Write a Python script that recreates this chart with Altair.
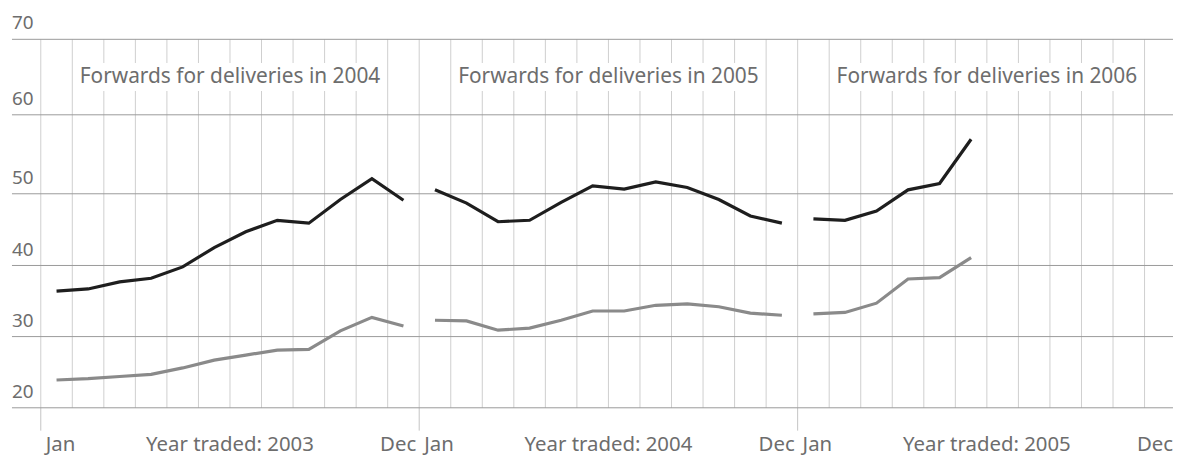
import altair as alt
import pandas as pd

# ---- data ----
years_traded = [2003, 2004, 2005]
delivery_years = [2004, 2005, 2006]
series_names = ["Peak", "Base"]

peak_2003 = [36.4, 36.7, 37.7, 38.2, 39.8, 42.5, 44.7, 46.3, 45.9, 49.2, 51.9, 49.1]
base_2003 = [23.9, 24.1, 24.4, 24.7, 25.6, 26.7, 27.4, 28.1, 28.2, 30.8, 32.7, 31.5]
peak_2004 = [50.5, 48.7, 46.1, 46.3, 48.8, 51.0, 50.6, 51.5, 50.8, 49.2, 46.9, 45.9]
base_2004 = [32.3, 32.2, 30.9, 31.2, 32.3, 33.6, 33.6, 34.4, 34.6, 34.2, 33.3, 33.0]
peak_2005 = [46.5, 46.3, 47.6, 50.5, 51.3, 56.9]
base_2005 = [33.2, 33.4, 34.7, 38.1, 38.3, 41.1]

y_ticks = [20, 30, 40, 50, 60, 70]
n_month_lines = 36

peaks = [peak_2003, peak_2004, peak_2005]
bases = [base_2003, base_2004, base_2005]

rows = []
for p in range(3):
    for name, vals in (("Peak", peaks[p]), ("Base", bases[p])):
        for i, v in enumerate(vals):
            rows.append({"panel": p, "series": name, "x": p * 12 + i + 0.5, "v": v,
                         "grp": f"{name}-{p}"})
df = pd.DataFrame(rows)

panels = pd.DataFrame({
    "panel": [0, 1, 2],
    "start": [p * 12 for p in range(3)],
    "end": [p * 12 + 12 for p in range(3)],
    "mid": [p * 12 + 6 for p in range(3)],
    "box0": [p * 12 + 1.07 for p in range(3)],
    "box1": [p * 12 + 10.83 for p in range(3)],
    "title": [f"Forwards for deliveries in {y}" for y in delivery_years],
    "traded": [f"Year traded: {y}" for y in years_traded],
    "jan": ["Jan"] * 3,
    "dec": ["Dec"] * 3,
})
grid_df = pd.DataFrame({"v": y_ticks, "label": [str(t) for t in y_ticks]})
vgrid_df = pd.DataFrame({"m": list(range(n_month_lines))})

W, H = 1132, 371
FONT = "Noto Sans"
TXT = "#6d6d6d"

y_scale = alt.Scale(domain=y_ticks, range=[371, 299.3, 227.7, 155.5, 76, 0])
x_scale = alt.Scale(domain=[0, 35.65], nice=False, zero=False)

vgrid = alt.Chart(vgrid_df).mark_rule(color="#cfcfcf", strokeWidth=1).encode(
    x=alt.X("m:Q", scale=x_scale, axis=None),
    y=alt.value(0), y2=alt.value(H),
)

jan_ticks = alt.Chart(panels).mark_rule(color="#c4c4c4", strokeWidth=1).encode(
    x=alt.X("start:Q", scale=x_scale, axis=None),
    y=alt.value(H), y2=alt.value(H + 23),
)

hgrid = alt.Chart(grid_df).mark_rule(color="#9a9a9a", strokeWidth=1).encode(
    y=alt.Y("v:Q", scale=y_scale, axis=None),
    x=alt.value(-29), x2=alt.value(W + 8),
)

ylabels = alt.Chart(grid_df).mark_text(align="left", baseline="alphabetic", dy=-10,
                                       font=FONT, fontSize=19, color=TXT).encode(
    y=alt.Y("v:Q", scale=y_scale, axis=None),
    x=alt.value(-29),
    text="label:N",
)

boxes = alt.Chart(panels).mark_rect(color="white").encode(
    x=alt.X("box0:Q", scale=x_scale, axis=None), x2="box1:Q",
    y=alt.Y("y0:Q", scale=y_scale, axis=None), y2="y1:Q",
).transform_calculate(y0="63.17", y1="66.87")

titles = alt.Chart(panels).mark_text(align="center", baseline="alphabetic",
                                     font=FONT, fontSize=21, color=TXT).encode(
    x=alt.X("mid:Q", scale=x_scale, axis=None),
    y=alt.Y("ty:Q", scale=y_scale, axis=None),
    text="title:N",
).transform_calculate(ty="64.23")

XFS = 20.5
jan = alt.Chart(panels).mark_text(align="left", baseline="alphabetic", dx=5,
                                  font=FONT, fontSize=XFS, color=TXT).encode(
    x=alt.X("start:Q", scale=x_scale, axis=None), y=alt.value(H + 44), text="jan:N")
dec = alt.Chart(panels).mark_text(align="right", baseline="alphabetic", dx=-3,
                                  font=FONT, fontSize=XFS, color=TXT).encode(
    x=alt.X("end:Q", scale=x_scale, axis=None), y=alt.value(H + 44), text="dec:N")
traded = alt.Chart(panels).mark_text(align="center", baseline="alphabetic",
                                     font=FONT, fontSize=XFS, color=TXT).encode(
    x=alt.X("mid:Q", scale=x_scale, axis=None), y=alt.value(H + 44), text="traded:N")

lines = alt.Chart(df).mark_line(strokeWidth=3.2, strokeJoin="miter").encode(
    x=alt.X("x:Q", scale=x_scale, axis=None),
    y=alt.Y("v:Q", scale=y_scale, axis=None),
    color=alt.Color("series:N", scale=alt.Scale(domain=series_names,
                                                range=["#1e1e1e", "#8a8a8a"]), legend=None),
    detail="grp:N",
    order="x:Q",
)

chart = alt.layer(vgrid, jan_ticks, hgrid, ylabels, boxes, titles, jan, dec, traded, lines).properties(
    width=W, height=H,
    autosize=alt.AutoSizeParams(type="none"),
    padding={"left": 33, "top": 30, "right": 8, "bottom": 48},
).configure_view(stroke=None)

chart.save("out.html", embed_options={"renderer": "svg", "actions": False})
